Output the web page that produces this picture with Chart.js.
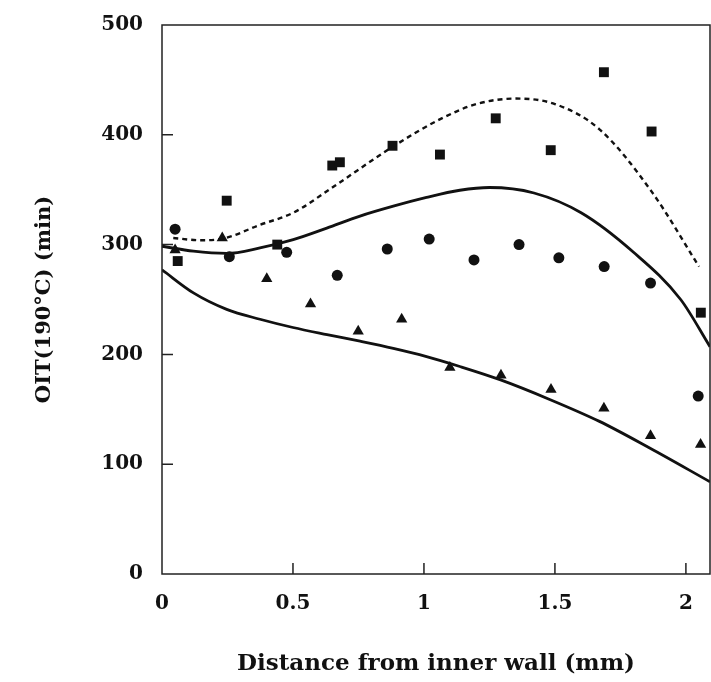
<!DOCTYPE html>
<html>
<head>
<meta charset="utf-8">
<script src="https://cdn.jsdelivr.net/npm/chart.js@4/dist/chart.umd.min.js"></script>
<style>
  html, body { margin: 0; padding: 0; background: #ffffff; }
  #wrap { width: 711px; height: 682px; position: relative; }
</style>
</head>
<body>
<div id="wrap"><canvas id="c" width="711" height="682"></canvas></div>
<script>
// ---- Data ----
const xTickValues = [0, 0.5, 1, 1.5, 2];
const yTickValues = [0, 100, 200, 300, 400, 500];

// Squares
const squareX = [0.06, 0.247, 0.44, 0.65, 0.679, 0.88, 1.061, 1.274, 1.484, 1.687, 1.869, 2.057];
const squareY = [285, 340, 300, 372, 375, 390, 382, 415, 386, 457, 403, 238];

// Circles
const circleX = [0.05, 0.257, 0.476, 0.669, 0.86, 1.02, 1.191, 1.363, 1.515, 1.688, 1.865, 2.047];
const circleY = [314, 289, 293, 272, 296, 305, 286, 300, 288, 280, 265, 162];

// Triangles
const triangleX = [0.05, 0.23, 0.4, 0.567, 0.749, 0.915, 1.099, 1.294, 1.485, 1.687, 1.865, 2.056];
const triangleY = [295, 306, 269, 246, 221, 232, 188, 181, 168, 151, 126, 118];

// Dashed fitted curve (upper)
const dashedX = [0.043, 0.145, 0.234, 0.374, 0.501, 0.65, 0.88, 1.06, 1.2, 1.35, 1.5, 1.67, 1.87, 2.05];
const dashedY = [306, 304, 305.5, 318, 329, 352, 389, 414, 428, 433, 428, 405, 348, 280];

// Solid fitted curve (middle)
const solidMidX = [0, 0.12, 0.247, 0.374, 0.501, 0.629, 0.756, 0.883, 1.01, 1.137, 1.25, 1.42, 1.6, 1.8, 1.98, 2.092];
const solidMidY = [298.5, 294, 292, 297, 304.5, 315, 326, 335, 343, 349.5, 352, 347, 329, 293, 250, 207];

// Solid fitted curve (lower)
const solidLowX = [0, 0.12, 0.247, 0.374, 0.5, 0.63, 0.756, 0.883, 1.01, 1.137, 1.29, 1.48, 1.67, 1.86, 2.092];
const solidLowY = [277, 256, 241, 232, 224.5, 218, 212, 205.5, 198, 189, 177, 159, 139, 115, 84];

const xTitle = 'Distance from inner wall (mm)';
const yTitle = 'OIT(190°C) (min)';

// ---- Build ----
const pts = (xs, ys) => xs.map((x, i) => ({ x: x, y: ys[i] }));
const INK = '#111111';
const FONT = 'DejaVu Serif';

const framePlugin = {
  id: 'frame',
  afterDatasetsDraw(chart) {
    const { ctx, chartArea: a, scales } = chart;
    ctx.save();
    ctx.strokeStyle = '#222222';
    ctx.lineWidth = 1.5;
    ctx.strokeRect(a.left, a.top, a.right - a.left, a.bottom - a.top);
    const len = 11;
    ctx.beginPath();
    yTickValues.forEach(v => {
      if (v === 0 || v === 500) return;
      const y = scales.y.getPixelForValue(v);
      ctx.moveTo(a.left, y); ctx.lineTo(a.left + len, y);
    });
    xTickValues.forEach(v => {
      if (v === 0) return;
      const x = scales.x.getPixelForValue(v);
      ctx.moveTo(x, a.bottom); ctx.lineTo(x, a.bottom - len);
    });
    ctx.stroke();
    ctx.restore();
  }
};

new Chart(document.getElementById('c'), {
  type: 'scatter',
  data: {
    datasets: [
      { label: 'dashed', data: pts(dashedX, dashedY), showLine: true, borderColor: INK, borderWidth: 2.4,
        borderDash: [5, 4], pointRadius: 0, pointHoverRadius: 0, cubicInterpolationMode: 'monotone', fill: false },
      { label: 'mid', data: pts(solidMidX, solidMidY), showLine: true, borderColor: INK, borderWidth: 2.8,
        pointRadius: 0, pointHoverRadius: 0, cubicInterpolationMode: 'monotone', fill: false },
      { label: 'low', data: pts(solidLowX, solidLowY), showLine: true, borderColor: INK, borderWidth: 2.8,
        pointRadius: 0, pointHoverRadius: 0, cubicInterpolationMode: 'monotone', fill: false },
      { label: 'squares', data: pts(squareX, squareY), pointStyle: 'rect', pointRadius: 7,
        backgroundColor: INK, borderColor: INK, borderWidth: 0 },
      { label: 'circles', data: pts(circleX, circleY), pointStyle: 'circle', pointRadius: 5.5,
        backgroundColor: INK, borderColor: INK, borderWidth: 0 },
      { label: 'triangles', data: pts(triangleX, triangleY), pointStyle: 'triangle', pointRadius: 6.5,
        backgroundColor: INK, borderColor: INK, borderWidth: 0 }
    ]
  },
  options: {
    responsive: false,
    animation: false,
    clip: true,
    layout: { autoPadding: false, padding: { left: 32, right: 1, top: 25, bottom: 4 } },
    plugins: { legend: { display: false }, tooltip: { enabled: false } },
    scales: {
      x: {
        type: 'linear', position: 'bottom', min: 0, max: 2.092,
        grid: { display: false, drawTicks: false },
        border: { display: false },
        afterBuildTicks: s => { s.ticks = xTickValues.map(v => ({ value: v })); },
        afterFit: s => { s.height = 104; s.paddingLeft = 0; s.paddingRight = 0; },
        ticks: { padding: 18, color: INK, font: { family: FONT, size: 20, weight: 'bold' },
                 maxRotation: 0, autoSkip: false, callback: v => String(v) },
        title: { display: true, text: xTitle, color: INK, padding: 0,
                 font: { family: FONT, size: 23, weight: 'bold' } }
      },
      y: {
        type: 'linear', min: 0, max: 500,
        grid: { display: false, drawTicks: false },
        border: { display: false },
        afterBuildTicks: s => { s.ticks = yTickValues.map(v => ({ value: v })); },
        afterFit: s => { s.width = 130; s.paddingTop = 0; s.paddingBottom = 0; },
        ticks: { padding: 19, color: INK, font: { family: FONT, size: 20, weight: 'bold' } },
        title: { display: true, text: yTitle, color: INK, padding: 0,
                 font: { family: FONT, size: 21, weight: 'bold' } }
      }
    }
  },
  plugins: [framePlugin]
});
</script>
</body>
</html>
